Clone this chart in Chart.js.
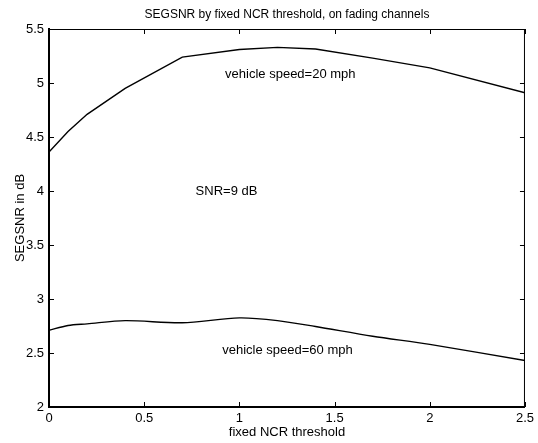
<!DOCTYPE html>
<html>
<head>
<meta charset="utf-8">
<script src="https://cdn.jsdelivr.net/npm/chart.js@4/dist/chart.umd.min.js"></script>
<style>
  html, body { margin: 0; padding: 0; background: #fff; }
  #wrap { width: 538px; height: 443px; }
</style>
</head>
<body>
<div id="wrap"><canvas id="segsnr-chart" width="538" height="443"></canvas></div>
<script>
// fixed NCR threshold values
const thresholds = [0, 0.1, 0.2, 0.4, 0.7, 1.0, 1.2, 1.4, 1.7, 2.0, 2.5];
// SEGSNR (dB), vehicle speed 20 mph
const speed20 = [4.36, 4.55, 4.71, 4.95, 5.24, 5.31, 5.33, 5.315, 5.23, 5.14, 4.91];
// SEGSNR (dB), vehicle speed 60 mph
const speed60 = [2.71, 2.755, 2.77, 2.80, 2.78, 2.825, 2.80, 2.745, 2.655, 2.58, 2.43];
const xTicks = [0, 0.5, 1, 1.5, 2, 2.5];
const yTicks = [2, 2.5, 3, 3.5, 4, 4.5, 5, 5.5];
const notes = [
  { text: 'vehicle speed=20 mph', x: 0.925, y: 5.08 },
  { text: 'SNR=9 dB', x: 0.77, y: 4.0 },
  { text: 'vehicle speed=60 mph', x: 0.91, y: 2.52 }
];
const titleText = 'SEGSNR by fixed NCR threshold, on fading channels';

const FONT = 'Liberation Sans, Arial, Helvetica, sans-serif';

const toPoints = (xs, ys) => xs.map((x, i) => ({ x: x, y: ys[i] }));

// matlab-like frame: box, inward ticks, title and text notes
const matlabFrame = {
  id: 'matlabFrame',
  afterDraw(chart) {
    const ctx = chart.ctx;
    const a = chart.chartArea;
    const xs = chart.scales.x;
    const ys = chart.scales.y;
    const tl = 5;
    ctx.save();
    ctx.strokeStyle = '#000';
    ctx.lineWidth = 1;
    ctx.strokeRect(a.left + 0.5, a.top + 0.5, a.right - a.left - 1, a.bottom - a.top - 1);
    ctx.beginPath();
    xTicks.forEach(v => {
      const px = Math.round(xs.getPixelForValue(v)) + 0.5;
      ctx.moveTo(px, a.bottom); ctx.lineTo(px, a.bottom - tl);
      ctx.moveTo(px, a.top); ctx.lineTo(px, a.top + tl);
    });
    yTicks.forEach(v => {
      const py = Math.round(ys.getPixelForValue(v)) + 0.5;
      ctx.moveTo(a.left, py); ctx.lineTo(a.left + tl, py);
      ctx.moveTo(a.right, py); ctx.lineTo(a.right - tl, py);
    });
    ctx.stroke();

    ctx.fillStyle = '#000';
    ctx.font = '12px ' + FONT;
    ctx.textBaseline = 'middle';
    ctx.textAlign = 'center';
    ctx.fillText(titleText, (a.left + a.right) / 2, 15);
    ctx.font = '13px ' + FONT;
    ctx.textAlign = 'left';
    notes.forEach(n => {
      ctx.fillText(n.text, xs.getPixelForValue(n.x), ys.getPixelForValue(n.y));
    });
    ctx.restore();
  }
};

const ctx = document.getElementById('segsnr-chart').getContext('2d');
new Chart(ctx, {
  type: 'scatter',
  data: {
    datasets: [
      {
        label: 'vehicle speed=20 mph',
        data: toPoints(thresholds, speed20),
        showLine: true,
        borderColor: '#000',
        borderWidth: 1.4,
        pointRadius: 0,
        tension: 0
      },
      {
        label: 'vehicle speed=60 mph',
        data: toPoints(thresholds, speed60),
        showLine: true,
        borderColor: '#000',
        borderWidth: 1.4,
        pointRadius: 0,
        tension: 0.3
      }
    ]
  },
  options: {
    responsive: false,
    animation: false,
    layout: { padding: { top: 29, right: 12, left: 0, bottom: 0 } },
    plugins: {
      legend: { display: false },
      tooltip: { enabled: false }
    },
    scales: {
      x: {
        type: 'linear',
        min: 0,
        max: 2.5,
        afterFit: s => { s.height = 36; },
        afterBuildTicks: s => { s.ticks = xTicks.map(v => ({ value: v })); },
        grid: { display: false, drawTicks: false },
        border: { display: true, color: '#000', width: 1 },
        ticks: {
          color: '#000',
          padding: 4,
          font: { family: FONT, size: 13 },
          callback: v => String(v)
        },
        title: {
          display: true,
          text: 'fixed NCR threshold',
          color: '#000',
          font: { family: FONT, size: 13 },
          padding: { top: 0, bottom: 3 }
        }
      },
      y: {
        type: 'linear',
        min: 2,
        max: 5.5,
        afterFit: s => { s.width = 49; },
        afterBuildTicks: s => { s.ticks = yTicks.map(v => ({ value: v })); },
        grid: { display: false, drawTicks: false },
        border: { display: true, color: '#000', width: 2 },
        ticks: {
          color: '#000',
          padding: 5,
          font: { family: FONT, size: 13 },
          callback: v => String(v)
        },
        title: {
          display: true,
          text: 'SEGSNR in dB',
          color: '#000',
          font: { family: FONT, size: 13 },
          padding: { top: 13, bottom: 0 }
        }
      }
    }
  },
  plugins: [matlabFrame]
});
</script>
</body>
</html>
